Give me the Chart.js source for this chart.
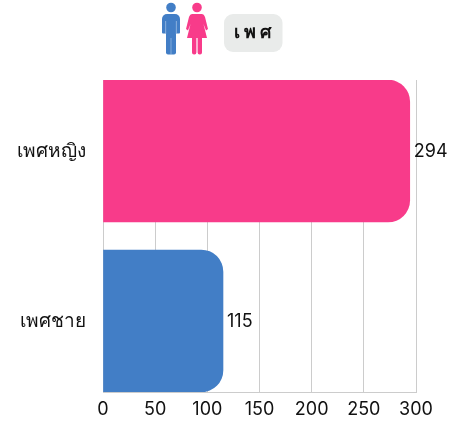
<!DOCTYPE html>
<html>
<head>
<meta charset="utf-8">
<style>
    html, body { margin: 0; padding: 0; background: #fff; }
    canvas { display: block; }
</style>
<script src="https://cdn.jsdelivr.net/npm/chart.js@4"></script>
</head>
<body>
<canvas id="grafico" width="454" height="421"></canvas>
<script>
const categories = ["เพศหญิง", "เพศชาย"];
const values = [294, 115];
const barColors = ["#f83b8a", "#427ec6"];
const xTicks = [0, 50, 100, 150, 200, 250, 300];
const titleText = "เพศ";

const FONT = "Inter, 'Noto Sans', sans-serif";

function drawIcons(c) {
    // man
    c.fillStyle = "#427ec6";
    c.beginPath();
    c.arc(171, 7.5, 4.8, 0, Math.PI * 2);
    c.fill();
    c.beginPath();
    c.roundRect(162, 14, 18, 19.5, [5, 5, 1, 1]);
    c.fill();
    c.beginPath();
    c.roundRect(166, 20, 10, 34.5, [0, 0, 2, 2]);
    c.fill();
    c.fillStyle = "#a9c5e8";
    c.fillRect(165.4, 21, 0.7, 13);
    c.fillRect(175.9, 21, 0.7, 13);
    c.fillRect(170.7, 38, 0.6, 17);

    // woman
    c.fillStyle = "#f83b8a";
    c.beginPath();
    c.arc(197, 7.5, 4.8, 0, Math.PI * 2);
    c.fill();
    c.beginPath();
    c.moveTo(192, 14);
    c.lineTo(202, 14);
    c.quadraticCurveTo(204, 14, 205, 17);
    c.lineTo(208, 29);
    c.lineTo(206, 30.5);
    c.lineTo(203.5, 24);
    c.lineTo(207, 38);
    c.lineTo(187, 38);
    c.lineTo(190.5, 24);
    c.lineTo(188, 30.5);
    c.lineTo(186, 29);
    c.lineTo(189, 17);
    c.quadraticCurveTo(190, 14, 192, 14);
    c.fill();
    c.beginPath();
    c.roundRect(192, 37, 4.4, 17.5, [0, 0, 2, 2]);
    c.roundRect(197.6, 37, 4.4, 17.5, [0, 0, 2, 2]);
    c.fill();
}

const headerPlugin = {
    id: "header",
    afterDraw(chart) {
        const c = chart.ctx;
        c.save();
        drawIcons(c);
        c.fillStyle = "#e9ebea";
        c.beginPath();
        c.roundRect(224, 14, 58.5, 38, 9);
        c.fill();
        c.fillStyle = "#111111";
        c.font = "bold 18px " + FONT;
        c.letterSpacing = "4px";
        c.textAlign = "center";
        c.textBaseline = "middle";
        c.fillText(titleText, 254.5, 33);
        c.restore();
    }
};

const valueLabels = {
    id: "valueLabels",
    afterDatasetsDraw(chart) {
        const c = chart.ctx;
        c.save();
        c.fillStyle = "#111111";
        c.font = "18px " + FONT;
        c.textAlign = "left";
        c.textBaseline = "middle";
        chart.getDatasetMeta(0).data.forEach(function (bar, i) {
            c.fillText(values[i], bar.x + 4, bar.y + 1);
        });
        c.restore();
    }
};

new Chart(document.getElementById("grafico"), {
    type: "bar",
    data: {
        datasets: [{
            data: values.map(function (v, i) { return { x: v, y: i + 1 }; }),
            backgroundColor: barColors,
            barThickness: 142,
            borderRadius: { topRight: 22, bottomRight: 22 },
            borderSkipped: false
        }]
    },
    plugins: [headerPlugin, valueLabels],
    options: {
        indexAxis: "y",
        responsive: false,
        animation: false,
        layout: { padding: { top: 80, right: 38, bottom: 0, left: 0 } },
        plugins: { legend: { display: false }, tooltip: { enabled: false } },
        scales: {
            x: {
                min: 0,
                max: 300,
                afterBuildTicks: function (axis) {
                    axis.ticks = xTicks.map(function (v) { return { value: v }; });
                },
                afterFit: function (axis) { axis.height = 29; },
                grid: { color: "#cccccc", drawTicks: false },
                border: { color: "#cccccc" },
                ticks: {
                    color: "#111111",
                    maxRotation: 0,
                    padding: 7,
                    font: { family: FONT, size: 18 }
                }
            },
            y: {
                type: "linear",
                reverse: true,
                offset: false,
                min: 0.582,
                max: 2.418,
                afterBuildTicks: function (axis) {
                    axis.ticks = categories.map(function (name, i) { return { value: i + 1 }; });
                },
                afterFit: function (axis) { axis.width = 103; },
                grid: { display: false },
                border: { display: false },
                ticks: {
                    color: "#111111",
                    padding: 9,
                    font: { family: FONT, size: 19 },
                    callback: function (v) { return categories[v - 1]; }
                }
            }
        }
    }
});
</script>
</body>
</html>
